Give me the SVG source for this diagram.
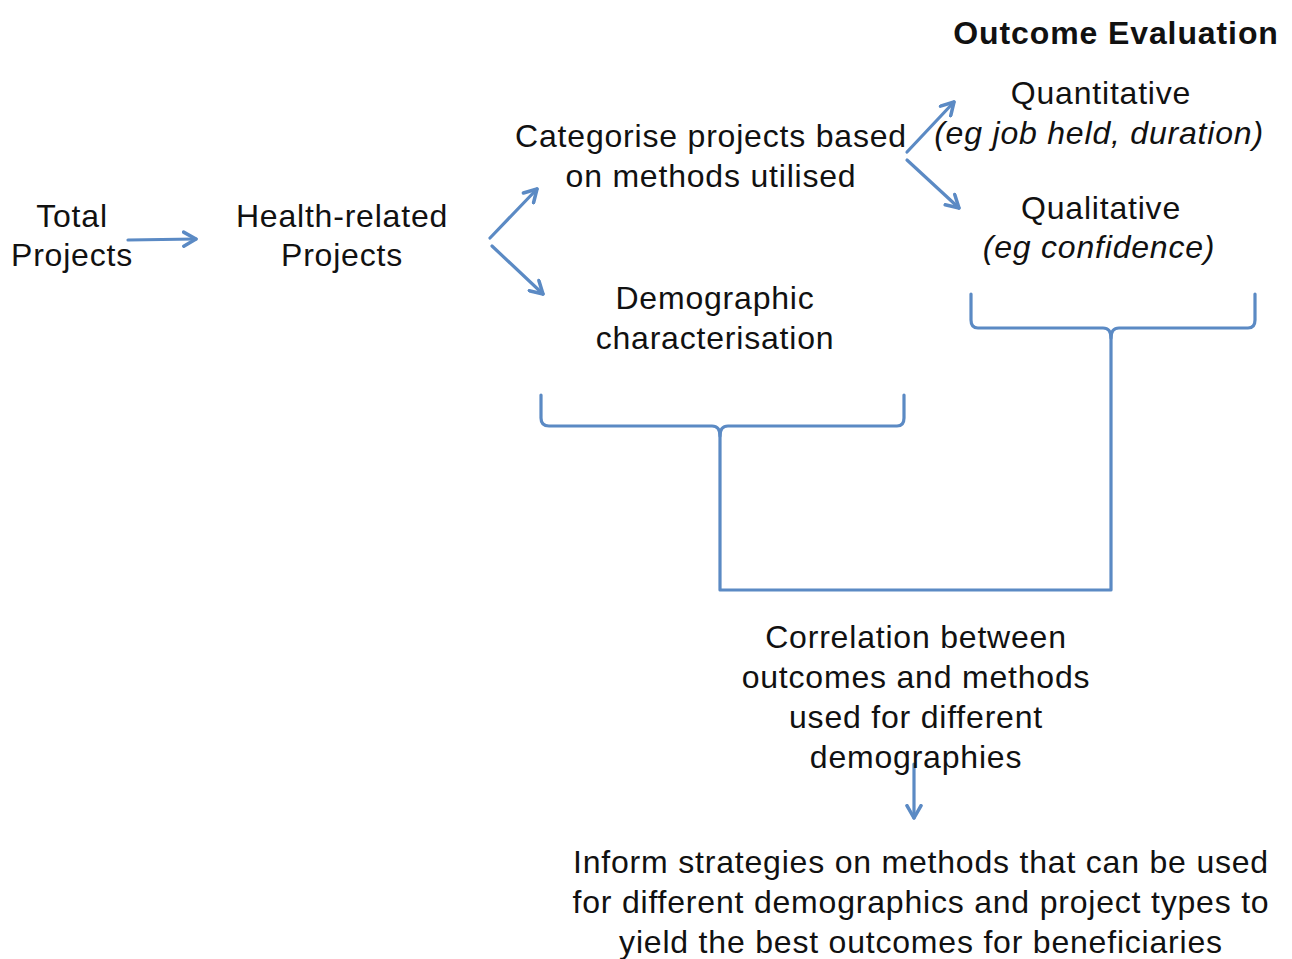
<svg xmlns="http://www.w3.org/2000/svg" width="1292" height="959" viewBox="0 0 1292 959">
<defs>
<style>
text{font-family:"Liberation Sans",Arial,sans-serif;font-size:32px;letter-spacing:0.8px;fill:#111;text-anchor:middle}
.b{font-weight:bold;font-size:32px;letter-spacing:0.9px}
.i{font-style:italic}
.c{fill:none;stroke:#5B8AC4;stroke-width:3.2;stroke-linecap:round;stroke-linejoin:round}
</style>
<marker id="ah" viewBox="0 0 10 10" refX="8" refY="5" markerWidth="5.5" markerHeight="5.5" orient="auto" markerUnits="strokeWidth">
<path d="M1,1 L8,5 L1,9" fill="none" stroke="#5B8AC4" stroke-width="2" stroke-linecap="round" stroke-linejoin="round"/>
</marker>
</defs>
<rect width="1292" height="959" fill="#fff"/>
<g id="connectors">
<path class="c" d="M128,240 L196,239" marker-end="url(#ah)"/>
<path class="c" d="M490,238 L537,189" marker-end="url(#ah)"/>
<path class="c" d="M492,246 L543,294" marker-end="url(#ah)"/>
<path class="c" d="M907,152 L954,102" marker-end="url(#ah)"/>
<path class="c" d="M907,160 L959,208" marker-end="url(#ah)"/>
<path class="c" d="M541,395 L541,418 Q541,426 549,426 L712,426 Q720,426 720,436 L720,590 L1111,590 L1111,338 Q1111,328 1119,328 L1248,328 Q1255,328 1255,320 L1255,294"/>
<path class="c" d="M720,436 Q720,426 728,426 L897,426 Q904,426 904,418 L904,395"/>
<path class="c" d="M1111,338 Q1111,328 1103,328 L978,328 Q971,328 971,320 L971,294"/>
<path class="c" d="M914,764 L914,818" marker-end="url(#ah)"/>
</g>
<g id="total"><text x="72" y="227">Total</text><text x="72" y="266">Projects</text></g>
<g id="health"><text x="342" y="227">Health-related</text><text x="342" y="266">Projects</text></g>
<g id="categorise"><text x="711" y="147">Categorise projects based</text><text x="711" y="187">on methods utilised</text></g>
<g id="demographic"><text x="715" y="309">Demographic</text><text x="715" y="349">characterisation</text></g>
<g id="header"><text class="b" x="1116" y="44">Outcome Evaluation</text></g>
<g id="quantitative"><text x="1101" y="104">Quantitative</text><text class="i" x="1099" y="144">(eg job held, duration)</text></g>
<g id="qualitative"><text x="1101" y="219">Qualitative</text><text class="i" x="1099" y="258">(eg confidence)</text></g>
<g id="correlation"><text x="916" y="648">Correlation between</text><text x="916" y="688">outcomes and methods</text><text x="916" y="728">used for different</text><text x="916" y="768">demographies</text></g>
<g id="inform"><text x="921" y="873">Inform strategies on methods that can be used</text><text x="921" y="913">for different demographics and project types to</text><text x="921" y="953">yield the best outcomes for beneficiaries</text></g>
</svg>
